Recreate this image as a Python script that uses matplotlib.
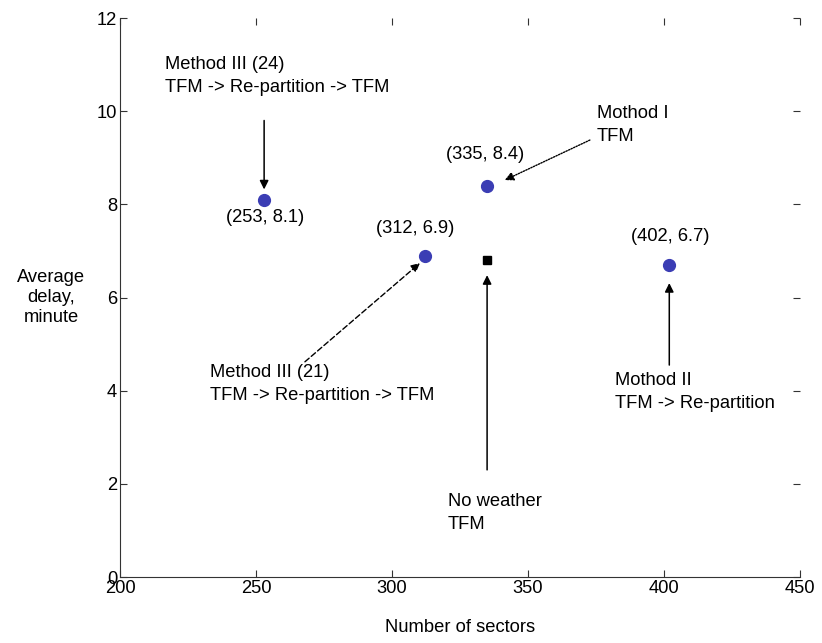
import matplotlib
matplotlib.use("Agg")
import matplotlib.pyplot as plt

plt.rcParams['font.family'] = ['Liberation Sans', 'DejaVu Sans']

# Data
sectors = [253, 312, 335, 402]
delays = [8.1, 6.9, 8.4, 6.7]
noweather_sectors = [335]
noweather_delays = [6.8]
xticks = [200, 250, 300, 350, 400, 450]
yticks = [0, 2, 4, 6, 8, 10, 12]

fig = plt.figure(figsize=(8.22, 6.43), dpi=100)
ax = fig.add_axes([0.146, 0.1026, 0.827, 0.8694])

ax.plot(sectors, delays, 'o', color='#3b3db4', markersize=8.5, zorder=3)
ax.plot(noweather_sectors, noweather_delays, 's', color='black', markersize=5.5, zorder=3)

fs = 13.2
ax.set_xlim(200, 450)
ax.set_ylim(0, 12)
ax.set_xticks(xticks)
ax.set_yticks(yticks)
ax.tick_params(direction='in', length=5, labelsize=fs, top=True, right=True, color='#333333', pad=2)
for s in ['top', 'right']:
    ax.spines[s].set_visible(False)
for s in ['left', 'bottom']:
    ax.spines[s].set_color('#333333')

ax.set_xlabel('Number of sectors', fontsize=fs, labelpad=16)
ax.set_ylabel('Average\ndelay,\nminute', fontsize=fs, rotation=0, ha='center', va='center',
              labelpad=33, linespacing=1.25)

# Point labels
offsets = {253: (0.3, -0.39), 312: (-3.5, 0.59), 335: (-0.8, 0.66), 402: (0.2, 0.6)}
for x, y in zip(sectors, delays):
    dx, dy = offsets[x]
    ax.text(x + dx, y + dy, f'({x}, {y})', fontsize=fs, ha='center', va='center')

ap = dict(arrowstyle='-|>', color='black', lw=1.1, mutation_scale=13, shrinkA=0, shrinkB=0)
ls = 1.45

# Method III (24)
ax.text(216.5, 10.75, 'Method III (24)\nTFM -> Re-partition -> TFM', fontsize=fs, ha='left', va='center', linespacing=ls)
ax.annotate('', xy=(253, 8.32), xytext=(253, 9.8), arrowprops=ap)

# Mothod I
ax.text(375.4, 9.7, 'Mothod I\nTFM', fontsize=fs, ha='left', va='center', linespacing=ls)
ax.annotate('', xy=(341.5, 8.52), xytext=(372.8, 9.38),
            arrowprops=dict(ap, linestyle=(0, (1, 1)), lw=1.0))

# Method III (21)
ax.text(233.1, 4.14, 'Method III (21)\nTFM -> Re-partition -> TFM', fontsize=fs, ha='left', va='center', linespacing=ls)
ax.annotate('', xy=(310.3, 6.74), xytext=(268, 4.62),
            arrowprops=dict(ap, linestyle=(0, (4, 2)), lw=1.0))

# No weather
ax.text(320.6, 1.37, 'No weather\nTFM', fontsize=fs, ha='left', va='center', linespacing=ls)
ax.annotate('', xy=(335, 6.48), xytext=(335, 2.3), arrowprops=ap)

# Mothod II
ax.text(382, 3.97, 'Mothod II\nTFM -> Re-partition', fontsize=fs, ha='left', va='center', linespacing=ls)
ax.annotate('', xy=(402, 6.31), xytext=(402, 4.55), arrowprops=ap)

fig.savefig('out.png', dpi=100)
